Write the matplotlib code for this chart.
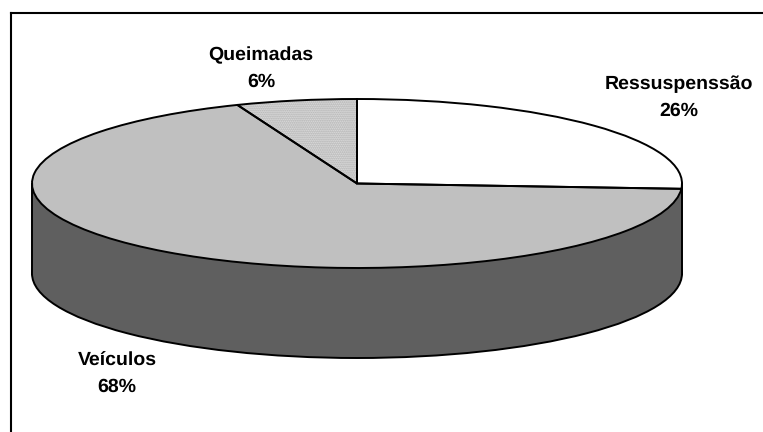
import matplotlib
matplotlib.use("Agg")
import matplotlib.pyplot as plt
from matplotlib.patches import Wedge, Rectangle, Ellipse

labels = ["Ressuspenssão", "Veículos", "Queimadas"]
shares = [26, 68, 6]
face_colors = ["#ffffff", "#c0c0c0", "#e4e4e4"]
wall_color = "#5f5f5f"

W, H = 763, 432
plt.rcParams["font.family"] = ["Liberation Sans", "DejaVu Sans"]
plt.rcParams["text.hinting"] = "no_hinting"
fig = plt.figure(figsize=(W / 100, H / 100), dpi=100, facecolor="white")

# pie top occupies this pixel box (x 32-682, y 99-268)
L, R, T, B = 32, 682, 99, 268
ax = fig.add_axes([L / W, (H - B) / H, (R - L) / W, (B - T) / H])
depth = 90 / ((B - T) / 2)
lw = 1.4

# side wall
ax.add_patch(Ellipse((0, -depth), 2, 2, fc=wall_color, ec="black", lw=lw, zorder=1, clip_on=False))
ax.add_patch(Rectangle((-1, -depth), 2, depth, fc=wall_color, ec="none", zorder=1.1, clip_on=False))
ax.plot([-1, -1], [0, -depth], color="black", lw=lw, zorder=1.2, clip_on=False)
ax.plot([1, 1], [0, -depth], color="black", lw=lw, zorder=1.2, clip_on=False)

# top faces
w1, _ = ax.pie(shares, startangle=90, counterclock=False, colors=face_colors, radius=1,
               wedgeprops=dict(lw=0, zorder=2, clip_on=False))
q = w1[2]
ax.add_patch(Wedge((0, 0), 1, q.theta1, q.theta2, fc="none", ec="#a8a8a8", lw=0,
                   hatch="........", zorder=2.5, clip_on=False))
w2, _ = ax.pie(shares, startangle=90, counterclock=False, radius=1,
               wedgeprops=dict(fc="none", ec="black", lw=lw, zorder=3, clip_on=False))
ax.set_aspect("auto")
ax.set_xlim(-1, 1)
ax.set_ylim(-1, 1)
ax.axis("off")

# labels, in figure pixels
label_pos = {"Ressuspenssão": (679, 97.5), "Veículos": (117, 374), "Queimadas": (261, 69)}
for name, share in zip(labels, shares):
    x, y = label_pos[name]
    fig.text(x / W, 1 - y / H, f"{name}\n{share}%", ha="center", va="center",
             fontsize=14, fontweight="bold", color="black", linespacing=1.64)

# chart frame: only top and left edges are visible
fig.add_artist(plt.Line2D([11 / W, 11 / W], [0, 1 - 13 / H], color="black", lw=1.5))
fig.add_artist(plt.Line2D([11 / W, 1], [1 - 13 / H, 1 - 13 / H], color="black", lw=1.5))

fig.savefig("out.png", dpi=100)
